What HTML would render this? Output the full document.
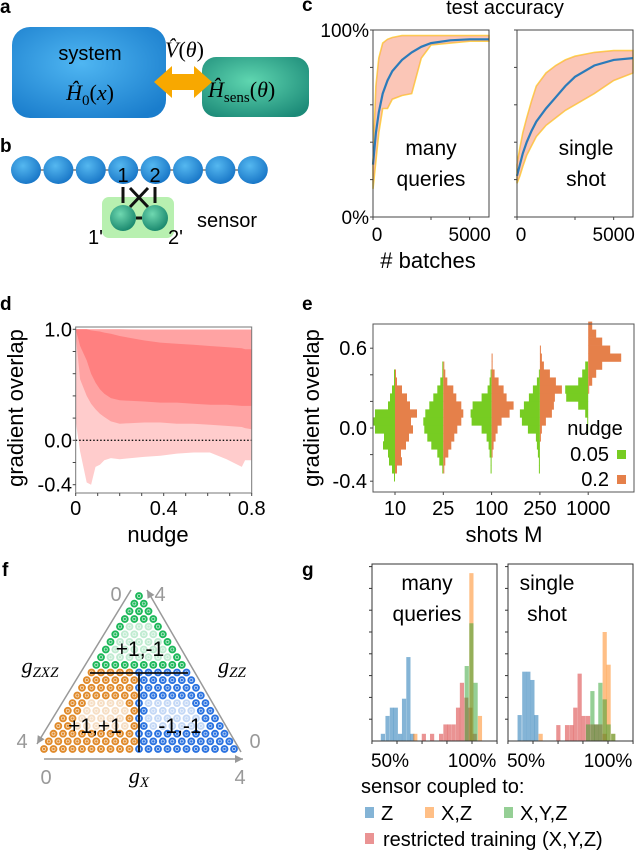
<!DOCTYPE html>
<html><head><meta charset="utf-8"><style>
html,body{margin:0;padding:0;background:#fff;}
svg{display:block;font-family:"Liberation Sans","DejaVu Sans",sans-serif;}
.m{font-family:"Liberation Serif",serif;font-style:italic;}
</style></head><body>
<svg id="fig" width="640" height="853" viewBox="0 0 640 853" xmlns="http://www.w3.org/2000/svg">
<defs>
<radialGradient id="gSys" cx="0.45" cy="0.4" r="0.7"><stop offset="0" stop-color="#4fb6f2"/><stop offset="1" stop-color="#1a7dcc"/></radialGradient>
<radialGradient id="gSen" cx="0.45" cy="0.4" r="0.7"><stop offset="0" stop-color="#5fd6b0"/><stop offset="1" stop-color="#1c8a78"/></radialGradient>
<radialGradient id="gBall" cx="0.4" cy="0.35" r="0.65"><stop offset="0" stop-color="#55b8f0"/><stop offset="1" stop-color="#1a78c8"/></radialGradient>
<radialGradient id="gTeal" cx="0.4" cy="0.35" r="0.65"><stop offset="0" stop-color="#6fd8b0"/><stop offset="1" stop-color="#1c8a70"/></radialGradient>
</defs>
<!-- panel a -->
<text x="0" y="13" font-size="19" font-weight="bold">a</text>
<rect x="12" y="27" width="154" height="91" rx="18" fill="url(#gSys)"/>
<text x="90" y="60" font-size="20" text-anchor="middle">system</text>
<text x="90" y="100" font-size="22" text-anchor="middle" class="m">Ĥ<tspan font-style="normal" font-size="15" dy="5">0</tspan><tspan dy="-5" font-style="normal">(</tspan>x<tspan font-style="normal">)</tspan></text>
<rect x="202" y="57" width="107" height="60" rx="14" fill="url(#gSen)"/>
<text x="208" y="97" font-size="22" class="m">Ĥ<tspan font-style="normal" font-size="15" dy="5">sens</tspan><tspan dy="-5" font-style="normal">(</tspan>θ<tspan font-style="normal">)</tspan></text>
<text x="165" y="57" font-size="22" class="m">V̂<tspan font-style="normal">(</tspan>θ<tspan font-style="normal">)</tspan></text>
<polygon points="154,82 172,66 172,74 194,74 194,66 212,82 194,98 194,90 172,90 172,98" fill="#f8a800"/>
<!-- panel b -->
<text x="0" y="152" font-size="19" font-weight="bold">b</text>
<line x1="26" y1="170" x2="253" y2="170" stroke="#999" stroke-width="2"/>
<g id="chain"></g>
<rect x="102" y="197" width="72" height="41" rx="7" fill="#b8f0b0"/>
<g stroke="#111" stroke-width="3">
<line x1="123" y1="187" x2="123" y2="203"/><line x1="155" y1="187" x2="155" y2="203"/>
<line x1="130" y1="188" x2="148" y2="207"/><line x1="148" y1="188" x2="130" y2="207"/>
<line x1="136" y1="218" x2="142" y2="218"/></g>
<circle cx="123" cy="218" r="13" fill="url(#gTeal)"/>
<circle cx="155" cy="218" r="13" fill="url(#gTeal)"/>
<text x="123" y="182" font-size="20" text-anchor="middle">1</text>
<text x="155" y="182" font-size="20" text-anchor="middle">2</text>
<text x="88" y="244" font-size="20">1'</text>
<text x="168" y="244" font-size="20">2'</text>
<text x="197" y="227" font-size="20">sensor</text>
<!-- panel c -->
<text x="302" y="11" font-size="19" font-weight="bold">c</text>
<text x="505" y="14" font-size="20" text-anchor="middle">test accuracy</text>
<g id="pc"></g>
<text x="428" y="268" font-size="22" text-anchor="middle"># batches</text>
<text x="431" y="155" font-size="21" text-anchor="middle">many</text>
<text x="431" y="186" font-size="21" text-anchor="middle">queries</text>
<text x="586" y="155" font-size="21" text-anchor="middle">single</text>
<text x="586" y="186" font-size="21" text-anchor="middle">shot</text>
<!-- panel d -->
<text x="0" y="310" font-size="19" font-weight="bold">d</text>
<g id="pd"></g>
<text transform="translate(23,408) rotate(-90)" font-size="22" text-anchor="middle">gradient overlap</text>
<text x="158" y="542" font-size="22" text-anchor="middle">nudge</text>
<!-- panel e -->
<text x="302" y="310" font-size="19" font-weight="bold">e</text>
<g id="pe"></g>
<text transform="translate(319,408) rotate(-90)" font-size="22" text-anchor="middle">gradient overlap</text>
<text x="504" y="542" font-size="22" text-anchor="middle">shots M</text>
<text x="595" y="435" font-size="20" text-anchor="middle">nudge</text>
<text x="609" y="461" font-size="20" text-anchor="end">0.05</text>
<rect x="617" y="450" width="9" height="9" fill="#77cc22"/>
<text x="609" y="486" font-size="20" text-anchor="end">0.2</text>
<rect x="617" y="475" width="9" height="9" fill="#e5804a"/>
<!-- panel f -->
<text x="2" y="576" font-size="19" font-weight="bold">f</text>
<g id="pf"></g>
<!-- panel g -->
<text x="302" y="576" font-size="19" font-weight="bold">g</text>
<g id="pg"></g>
<text x="427" y="590" font-size="21" text-anchor="middle">many</text>
<text x="427" y="621" font-size="21" text-anchor="middle">queries</text>
<text x="547" y="590" font-size="21" text-anchor="middle">single</text>
<text x="547" y="621" font-size="21" text-anchor="middle">shot</text>
<text x="361" y="793" font-size="20">sensor coupled to:</text>
<rect x="365" y="807" width="9" height="11" fill="#1f77b4" fill-opacity="0.55"/>
<text x="381" y="820" font-size="20">Z</text>
<rect x="425" y="807" width="9" height="11" fill="#ff7f0e" fill-opacity="0.5"/>
<text x="441" y="820" font-size="20">X,Z</text>
<rect x="504" y="807" width="9" height="11" fill="#2ca02c" fill-opacity="0.5"/>
<text x="520" y="820" font-size="20">X,Y,Z</text>
<rect x="365" y="833" width="9" height="11" fill="#d62728" fill-opacity="0.5"/>
<text x="383" y="846" font-size="20">restricted training (X,Y,Z)</text>
</svg>
<script>
// ---------- data ----------
const chainCount = 8;
// panel c
const cBatches = [0,150,300,500,750,1000,1500,2000,2500,3000,4000,5000,6000];
const cManyMean = [28,45,56,66,73,78,84,88,91,93,94.5,95,95];
const cManyUpper = [30,70,85,93,95,96,97,97,97,97,97,97,97];
const cManyLower = [15,30,45,58,58,63,65,66,85,92,93,94,94];
const cSingleMean = [22,28,34,40,46,51,58,64,70,75,81,84,85];
const cSingleUpper = [28,37,45,53,62,70,77,81,84,86,88,89,89];
const cSingleLower = [18,22,27,33,38,43,49,53,57,60,66,73,77];
const cYTicks = [0,20,40,60,80,100];
const cYTickLabels = ["0%","","","","","100%"];
const cXTicks = [0,3000,5000];
const cXTickLabels = ["0","","5000"];
// panel d
const dNudge = [0,0.02,0.05,0.07,0.09,0.11,0.13,0.16,0.2,0.31,0.385,0.46,0.535,0.61,0.686,0.755,0.77,0.8];
const dOuterHigh = [1,1,1,1,1,1,1,1,1,1,1,1,1,1,1,1,1,1];
const dOuterLow = [0.17,-0.1,-0.38,-0.4,-0.24,-0.22,-0.18,-0.16,-0.17,-0.15,-0.14,-0.12,-0.11,-0.11,-0.17,-0.24,-0.18,-0.18];
const dMidHigh = [1,1,1,1,1,1,1,1,1,0.995,0.995,0.995,0.995,0.995,0.995,0.995,0.995,0.995];
const dMidLow = [0.95,0.55,0.4,0.33,0.28,0.24,0.21,0.17,0.15,0.16,0.16,0.15,0.15,0.14,0.13,0.12,0.11,0.1];
const dInnerHigh = [1,1,1,0.99,0.985,0.98,0.97,0.96,0.94,0.9,0.88,0.87,0.86,0.85,0.84,0.83,0.82,0.82];
const dInnerLow = [1,0.85,0.72,0.6,0.52,0.46,0.42,0.38,0.36,0.35,0.34,0.34,0.33,0.32,0.32,0.31,0.31,0.31];
const dXTicks = [0,0.1,0.2,0.3,0.4,0.5,0.6,0.7,0.8];
const dXTickLabels = ["0","","","","0.4","","","","0.8"];
const dYTicks = [-0.4,-0.2,0,0.2,0.4,0.6,0.8,1.0];
const dYTickLabels = ["-0.4","","0.0","","","","","1.0"];
// panel e
const eCategories = ["10","25","100","250","1000"];
const eBinStart = -0.4, eBinWidth = 0.06;
const eGreen = [
 [1,3,6,7,12,11,20,22,20,7,5,3,1,1,0,0,0,0,0,0],
 [0,1,4,6,12,16,19,20,18,14,10,6,3,1,1,0,0,0,0,0],
 [0,1,1,2,3,5,10,20,21,19,10,4,2,1,0,0,0,0,0,0],
 [0,1,1,2,3,4,12,18,20,16,11,7,3,1,0,0,0,0,0,0],
 [0,0,0,0,0,0,1,1,3,10,22,23,10,6,3,0,0,0,0,0]
];
const eOrange = [
 [0,2,7,6,11,14,18,16,22,15,12,7,2,1,0,0,0,0,0,0],
 [0,1,2,5,8,11,14,18,20,18,13,10,4,2,1,0,0,0,0,0],
 [0,0,0,1,2,4,6,10,18,22,15,12,7,3,1,1,0,0,0,0],
 [0,0,0,0,0,1,2,6,12,14,15,22,16,10,4,2,1,0,0,0],
 [0,0,0,0,0,0,0,0,0,0,0,1,4,8,14,33,22,14,8,4]
];
const eYTicks = [-0.4,-0.2,0,0.2,0.4,0.6];
const eYTickLabels = ["-0.4","","0.0","","","0.6"];
// panel g (bin centers in %, counts in tick units)
const gBinWidth = 2.8;
const gManyZX = [40.6,43.7,46.6,49.2,52,54.7,57.6,60.2];
const gManyZ = [0.33,1.15,1.53,1.53,0.33,1.94,3.85,0.33];
const gManyRX = [67.9,73.4,79.4,82.3,84.9,87.8,90.7,93.3,96.2,98.9,101.8];
const gManyR = [0.33,0.33,0.33,0.76,0.76,0.76,1.53,2.67,1.99,1.53,0.33];
const gManyXZX = [62.2,99.6,105.3];
const gManyXZ = [0.33,7.7,1.15];
const gManyXYZX = [96.5,99.6,102.4];
const gManyXYZ = [3.44,5.4,2.67];
const gSingleZX = [41.1,44.2,46.9,49.6,52.2];
const gSingleZ = [1.19,3.18,3.18,2.8,1.19];
const gSingleRX = [66.9,72.7,75.6,78.2,81.1,83.8,86.7,89.6,92.2,94.9,97.8];
const gSingleR = [0.73,0.73,0.73,1.53,3.09,1.15,1.15,0.76,0.76,0.76,0.33];
const gSingleXZX = [55.1,97.8,100.4,103.5];
const gSingleXZ = [0.33,5.0,3.5,0.33];
const gSingleXYZX = [86.7,89.6,92.2,94.9,97.8,100.4,103.5];
const gSingleXYZ = [0.76,2.29,0.76,2.67,1.91,0.76,0.33];
const gXTicks = [33.3,50,66.7,83.3,100,116.7];
const gXTickLabels = ["","50%","","","100%",""];
const gYTicks = [1,2,3,4,5,6,7,8];
// panel f
const fRows = 21;

// ---------- helpers ----------
const NS='http://www.w3.org/2000/svg';
function mk(tag,attrs,parent){const e=document.createElementNS(NS,tag);for(const k in attrs)e.setAttribute(k,attrs[k]);parent.appendChild(e);return e;}
function txt(parent,x,y,s,size,anchor){const t=mk('text',{x:x,y:y,'font-size':size,'text-anchor':anchor||'middle'},parent);t.textContent=s;return t;}
function bandPath(xs,hi,lo,fx,fy){let d='';xs.forEach((x,i)=>{d+=(i?'L':'M')+fx(x).toFixed(1)+','+fy(hi[i]).toFixed(1);});for(let i=xs.length-1;i>=0;i--)d+='L'+fx(xs[i]).toFixed(1)+','+fy(lo[i]).toFixed(1);return d+'Z';}
function linePath(xs,ys,fx,fy){return xs.map((x,i)=>(i?'L':'M')+fx(x).toFixed(1)+','+fy(ys[i]).toFixed(1)).join('');}

// ---------- chain (b) ----------
const chainG=document.getElementById('chain');
for(let i=0;i<chainCount;i++){
  const c=mk('ellipse',{cx:26+i*32.4,cy:170,rx:15,ry:14,fill:'url(#gBall)'},chainG);
  
  
}

// ---------- panel c ----------
const pc=document.getElementById('pc');
const cy=a=>217-a/100*187;
[[373,cManyMean,cManyUpper,cManyLower,'many-queries'],[517,cSingleMean,cSingleUpper,cSingleLower,'single-shot']].forEach(([x0,mean,up,lo,nm])=>{
  const cx=b=>x0+b/6000*116;
  const g=mk('g',{},pc);
  
  
  const band2=mk('path',{d:bandPath(cBatches,up,lo,cx,cy),fill:'#ffe680','fill-opacity':0.35,stroke:'#ffd84a','stroke-width':1.6},g);
  
  
  const band=mk('path',{d:bandPath(cBatches,up,lo,cx,cy),fill:'#f47a8a','fill-opacity':0.38},g);
  
  
  const ln=mk('path',{d:linePath(cBatches,mean,cx,cy),fill:'none',stroke:'#2b7bba','stroke-width':2.2},g);
  
  
  const fr=mk('rect',{x:x0,y:cy(100),width:116,height:187,fill:'none',stroke:'#444','stroke-width':1},g);
  
  
  cYTicks.forEach((t,i)=>{mk('line',{x1:x0-3,x2:x0,y1:cy(t),y2:cy(t),stroke:'#444'},g);
    if(x0===373&&cYTickLabels[i]){const l=txt(g,x0-4,cy(t)+7,cYTickLabels[i],19,'end');
      
      }});
  cXTicks.forEach((t,i)=>{mk('line',{x1:cx(t),x2:cx(t),y1:217,y2:220,stroke:'#444'},g);
    if(cXTickLabels[i]){const l=txt(g,cx(t)+(t===0?4:0),241,cXTickLabels[i],19);
      
      }});
});

// ---------- panel d ----------
const pd=document.getElementById('pd');
const dx=n=>75.7+n/0.8*176;
const dy=v=>440.3-v*111;
[[dOuterHigh,dOuterLow,'#ffcccc','d-band-outer'],[dMidHigh,dMidLow,'#ffa3a3','d-band-middle'],[dInnerHigh,dInnerLow,'#ff8080','d-band-inner']].forEach(([hi,lo,col,nm])=>{
  const p=mk('path',{d:bandPath(dNudge,hi,lo,dx,dy),fill:col},pd);
  
  
});
const dz=mk('line',{x1:75.7,x2:251.7,y1:dy(0),y2:dy(0),stroke:'#111','stroke-width':1.3,'stroke-dasharray':'1.5,2'},pd);


const dfr=mk('rect',{x:75.7,y:327,width:176,height:166,fill:'none',stroke:'#777','stroke-width':1},pd);


dYTicks.forEach((t,i)=>{mk('line',{x1:72.7,x2:75.7,y1:dy(t),y2:dy(t),stroke:'#444'},pd);
  if(dYTickLabels[i]){const l=txt(pd,72,dy(t)+7,dYTickLabels[i],20,'end');
    
    }});
dXTicks.forEach((t,i)=>{mk('line',{x1:dx(t),x2:dx(t),y1:493,y2:496,stroke:'#444'},pd);
  if(dXTickLabels[i]){const l=txt(pd,dx(t),515,dXTickLabels[i],20);
    
    }});

// ---------- panel e ----------
const pe=document.getElementById('pe');
const ey=v=>428-v*133;
const ecx=i=>395+i*48.3;
eCategories.forEach((cat,ci)=>{
  const c0=ecx(ci);
  eGreen[ci].forEach((w,b)=>{ if(!w)return;
    const lo=eBinStart+b*eBinWidth;
    const r=mk('rect',{x:c0-w,y:ey(lo+eBinWidth),width:w,height:ey(lo)-ey(lo+eBinWidth)+0.3,fill:'#77cc22'},pe);
    
    
  });
  eOrange[ci].forEach((w,b)=>{ if(!w)return;
    const lo=eBinStart+b*eBinWidth;
    const r=mk('rect',{x:c0,y:ey(lo+eBinWidth),width:w,height:ey(lo)-ey(lo+eBinWidth)+0.3,fill:'#e5804a'},pe);
    
    
  });
  mk('line',{x1:c0,x2:c0,y1:492,y2:495,stroke:'#444'},pe);
  const l=txt(pe,c0,515,cat,20);
  
  
});
const efr=mk('rect',{x:373,y:324,width:261,height:168,fill:'none',stroke:'#555','stroke-width':1},pe);


eYTicks.forEach((t,i)=>{mk('line',{x1:370,x2:373,y1:ey(t),y2:ey(t),stroke:'#444'},pe);
  if(eYTickLabels[i]){const l=txt(pe,367,ey(t)+7,eYTickLabels[i],20,'end');
    
    }});

// ---------- panel f ----------
const pf=document.getElementById('pf');
const apexX=139, apexY=596, rowDy=7.65, colDx=9.5;
for(let k=0;k<fRows;k++){
  const y=apexY+k*rowDy;
  for(let j=0;j<=k;j++){
    const x=apexX+(j-k/2)*colDx;
    let col, light=false;
    if(k<=9){col='#1db85a'; light=(k>=4&&k<=8&&j>0&&j<k);}
    else if(x<apexX-1){col='#e08a2a'; light=(k>=14&&k<=17&&j>1&&x<apexX-12);}
    else {col='#2a72e0'; light=(k>=14&&k<=17&&j<k-1&&x>apexX+8);}
    const c=mk('circle',{cx:x.toFixed(1),cy:y.toFixed(1),r:3.9,fill:col,'fill-opacity':light?0.28:1},pf);
    
    
    mk('circle',{cx:x.toFixed(1),cy:y.toFixed(1),r:1.6,fill:'none',stroke:'#fff','stroke-width':0.8,'stroke-opacity':0.7},pf);
  }
}
const hl=mk('line',{x1:90,x2:188,y1:673,y2:673,stroke:'#111','stroke-width':1.8},pf);


const vl=mk('line',{x1:139,x2:139,y1:673,y2:752,stroke:'#111','stroke-width':1.8},pf);


[[131,590,37,744,'f-axis-gzxz'],[241,752,147,590,'f-axis-gzz'],[44,759,243,759,'f-axis-gx']].forEach(([x1,y1,x2,y2,nm])=>{
  const a=mk('line',{x1:x1,y1:y1,x2:x2,y2:y2,stroke:'#999','stroke-width':1.5},pf);
  
  
  const ang=Math.atan2(y2-y1,x2-x1),L=8,W=4;
  const bx=x2-L*Math.cos(ang),by=y2-L*Math.sin(ang);
  mk('polygon',{points:`${x2},${y2} ${bx-W*Math.sin(ang)},${by+W*Math.cos(ang)} ${bx+W*Math.sin(ang)},${by-W*Math.cos(ang)}`,fill:'#999'},pf);
});
[['0',116,601],['4',160,601],['4',22,748],['0',255,748],['0',46,784],['4',240,784]].forEach(([s,x,y])=>{
  const t=txt(pf,x,y,s,20); t.setAttribute('fill','#999');
  
  
});
function mathLabel(x,y,base,sub,nm){const t=mk('text',{x:x,y:y,'font-size':22,'text-anchor':'middle',class:'m'},pf);
  t.textContent=base; const s=mk('tspan',{'font-size':15,dy:4},t); s.textContent=sub;
  
  }
mathLabel(40,673,'g','ZXZ','f-label-gzxz');
mathLabel(232,673,'g','ZZ','f-label-gzz');
mathLabel(139,783,'g','X','f-label-gx');
[['+1,-1',140,656,'f-region-label-top'],['+1,+1',95,733,'f-region-label-left'],['-1,-1',180,733,'f-region-label-right']].forEach(([s,x,y,nm])=>{
  const t=txt(pf,x,y,s,21); 
  });

// ---------- panel g ----------
const pg=document.getElementById('pg');
const gy=c=>741-c*21.8;
function gPanel(x0,x50,pxPer,sets,nm){
  const gx=p=>x50+(p-50)*pxPer;
  sets.forEach(([xs,hs,col,op,snm])=>{
    xs.forEach((p,i)=>{
      const r=mk('rect',{x:gx(p-gBinWidth/2),y:gy(hs[i]),width:gBinWidth*pxPer,height:741-gy(hs[i]),fill:col,'fill-opacity':op},pg);
      
      
    });
  });
  const fr=mk('rect',{x:x0,y:564,width:125,height:177,fill:'none',stroke:'#333','stroke-width':1},pg);
  
  
  gXTicks.forEach((t,i)=>{mk('line',{x1:gx(t),x2:gx(t),y1:741,y2:744,stroke:'#333'},pg);
    if(gXTickLabels[i]){const l=txt(pg,gx(t)-(t===50?7:0),767,gXTickLabels[i],19);
      
      }});
  gYTicks.forEach(t=>mk('line',{x1:x0-3,x2:x0,y1:gy(t),y2:gy(t),stroke:'#333'},pg));
}
gPanel(372,397,1.5,[[gManyZX,gManyZ,'#1f77b4',0.55,'z'],[gManyRX,gManyR,'#d62728',0.5,'restricted'],[gManyXZX,gManyXZ,'#ff7f0e',0.5,'xz'],[gManyXYZX,gManyXYZ,'#2ca02c',0.5,'xyz']],'many');
gPanel(508,533,1.5,[[gSingleZX,gSingleZ,'#1f77b4',0.55,'z'],[gSingleRX,gSingleR,'#d62728',0.5,'restricted'],[gSingleXZX,gSingleXZ,'#ff7f0e',0.5,'xz'],[gSingleXYZX,gSingleXYZ,'#2ca02c',0.5,'xyz']],'single');
</script>
</body></html>
